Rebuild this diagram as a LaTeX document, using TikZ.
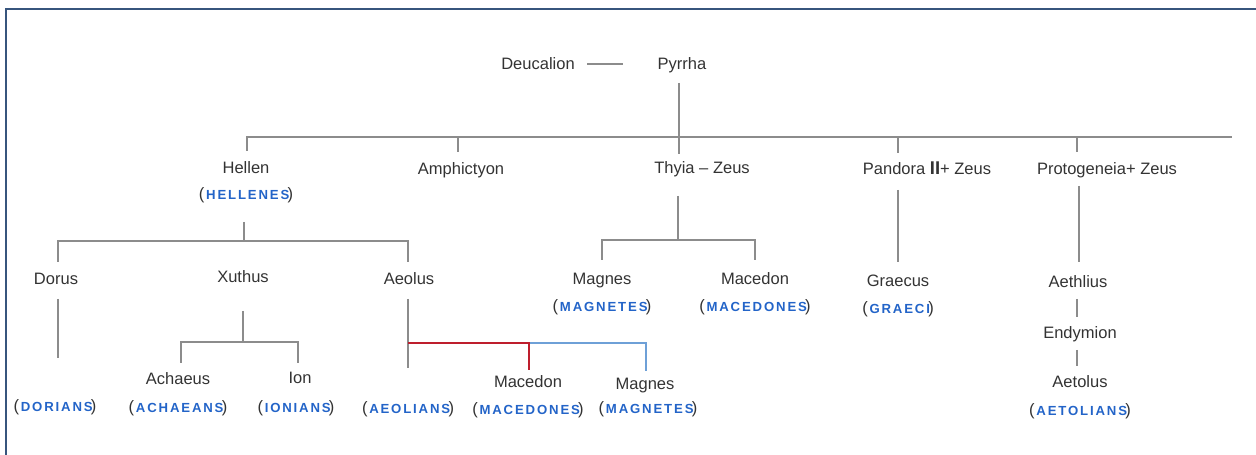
\documentclass[tikz,border=0pt]{standalone}
\usepackage{fontspec}
\usepackage{xcolor}
\setmainfont{Liberation Sans}
\newfontfamily\tribefont{Liberation Sans}[LetterSpace=14]

\definecolor{inkgray}{RGB}{51,51,51}
\definecolor{linegray}{RGB}{140,140,140}
\definecolor{tribeblue}{RGB}{35,100,200}
\definecolor{linkred}{RGB}{190,30,45}
\definecolor{linkblue}{RGB}{110,160,215}
\definecolor{framecol}{RGB}{55,85,125}

\newcommand{\tribename}[1]{{\color{inkgray}(}\kern1pt{\tribefont\bfseries\fontsize{7.5}{9}\selectfont\color{tribeblue}#1}\kern-1pt{\color{inkgray})}}

\begin{document}
\begin{tikzpicture}[
  x=0.02cm, y=-0.02cm,
  person/.style={text=inkgray,font=\fontsize{9.4}{11}\selectfont,inner sep=0pt,text height=6.7pt,text depth=0pt},
  tribe/.style={font=\fontsize{9.4}{11}\selectfont,inner sep=0pt,text height=5.3pt,text depth=0pt},
  stem/.style={draw=linegray,line width=0.75pt},
  redstem/.style={draw=linkred,line width=1.1pt},
  bluestem/.style={draw=linkblue,line width=0.7pt}
]
  \useasboundingbox (0,0) rectangle (1256,455);
  \draw[framecol,line width=1.1pt] (6,455) -- (6,9) -- (1256,9);

  % first generation
  \node[person] (deucalion) at (538,64) {Deucalion};
  \node[person] (pyrrha) at (682,64) {Pyrrha};
  \coordinate (dpL) at (587,64);
  \coordinate (dpR) at (623,64);
  \draw[stem] (dpL) -- (dpR);

  % children of Deucalion and Pyrrha
  \node[person] (hellen) at (246,168) {Hellen};
  \node[tribe] (hellenes) at (246,195) {\tribename{HELLENES}};
  \node[person] (amphictyon) at (461,169) {Amphictyon};
  \node[person] (thyia) at (702,168) {Thyia -- Zeus};
  \node[person] (pandora) at (927,169) {Pandora {\bfseries\fontsize{10.5}{11}\selectfont II}+ Zeus};
  \node[person] (protogeneia) at (1107,169) {Protogeneia+ Zeus};

  \coordinate (pyTop) at (679,83);
  \coordinate (pyBot) at (679,154);
  \coordinate (barL) at (247,137);
  \coordinate (barR) at (1232,137);
  \coordinate (tHel) at (247,151);
  \coordinate (tAmp) at (458,137);
  \coordinate (tAmpB) at (458,152);
  \coordinate (tPan) at (898,137);
  \coordinate (tPanB) at (898,153);
  \coordinate (tPro) at (1077,137);
  \coordinate (tProB) at (1077,152);
  \draw[stem] (pyTop) -- (pyBot);
  \draw[stem] (tHel) -- (barL) -- (barR);
  \draw[stem] (tAmp) -- (tAmpB);
  \draw[stem] (tPan) -- (tPanB);
  \draw[stem] (tPro) -- (tProB);

  % sons of Hellen
  \node[person] (dorus) at (56,279) {Dorus};
  \node[person] (xuthus) at (243,277) {Xuthus};
  \node[person] (aeolus) at (409,279) {Aeolus};
  \coordinate (hTop) at (244,222);
  \coordinate (hMid) at (244,241);
  \coordinate (hL) at (58,241);
  \coordinate (hLB) at (58,262);
  \coordinate (hR) at (408,241);
  \coordinate (hRB) at (408,262);
  \draw[stem] (hTop) -- (hMid);
  \draw[stem] (hLB) -- (hL) -- (hR) -- (hRB);

  % Dorus
  \node[tribe] (dorians) at (55,407) {\tribename{DORIANS}};
  \coordinate (dTop) at (58,299);
  \coordinate (dBot) at (58,358);
  \draw[stem] (dTop) -- (dBot);

  % Xuthus
  \node[person] (achaeus) at (178,379) {Achaeus};
  \node[tribe] (achaeans) at (178,408) {\tribename{ACHAEANS}};
  \node[person] (ion) at (300,378) {Ion};
  \node[tribe] (ionians) at (296,408) {\tribename{IONIANS}};
  \coordinate (xTop) at (243,311);
  \coordinate (xMid) at (243,342);
  \coordinate (xL) at (181,342);
  \coordinate (xLB) at (181,363);
  \coordinate (xR) at (298,342);
  \coordinate (xRB) at (298,363);
  \draw[stem] (xTop) -- (xMid);
  \draw[stem] (xLB) -- (xL) -- (xR) -- (xRB);

  % Aeolus
  \node[tribe] (aeolians) at (408,409) {\tribename{AEOLIANS}};
  \node[person] (macedonB) at (528,382) {Macedon};
  \node[tribe] (macedonesB) at (528,410) {\tribename{MACEDONES}};
  \node[person] (magnesB) at (645,384) {Magnes};
  \node[tribe] (magnetesB) at (648,409) {\tribename{MAGNETES}};
  \coordinate (aTop) at (408,299);
  \coordinate (aBot) at (408,368);
  \coordinate (aJ) at (408,343);
  \coordinate (aM) at (529,343);
  \coordinate (aMB) at (529,370);
  \coordinate (aG) at (646,343);
  \coordinate (aGB) at (646,371);
  \draw[stem] (aTop) -- (aBot);
  \draw[bluestem] (aM) -- (aG) -- (aGB);
  \draw[redstem] (aJ) -- (aM) -- (aMB);

  % Thyia and Zeus
  \node[person] (magnesA) at (602,279) {Magnes};
  \node[tribe] (magnetesA) at (602,307) {\tribename{MAGNETES}};
  \node[person] (macedonA) at (755,279) {Macedon};
  \node[tribe] (macedonesA) at (755,307) {\tribename{MACEDONES}};
  \coordinate (tTop) at (678,196);
  \coordinate (tMid) at (678,240);
  \coordinate (tL) at (602,240);
  \coordinate (tLB) at (602,260);
  \coordinate (tR) at (755,240);
  \coordinate (tRB) at (755,260);
  \draw[stem] (tTop) -- (tMid);
  \draw[stem] (tLB) -- (tL) -- (tR) -- (tRB);

  % Pandora and Zeus
  \node[person] (graecus) at (898,281) {Graecus};
  \node[tribe] (graeci) at (898,309) {\tribename{GRAECI}};
  \coordinate (pTop) at (898,190);
  \coordinate (pBot) at (898,262);
  \draw[stem] (pTop) -- (pBot);

  % Protogeneia and Zeus
  \node[person] (aethlius) at (1078,282) {Aethlius};
  \node[person] (endymion) at (1080,333) {Endymion};
  \node[person] (aetolus) at (1080,382) {Aetolus};
  \node[tribe] (aetolians) at (1080,411) {\tribename{AETOLIANS}};
  \coordinate (gTop) at (1079,186);
  \coordinate (gBot) at (1079,262);
  \coordinate (eTop) at (1077,299);
  \coordinate (eBot) at (1077,317);
  \coordinate (lTop) at (1077,350);
  \coordinate (lBot) at (1077,366);
  \draw[stem] (gTop) -- (gBot);
  \draw[stem] (eTop) -- (eBot);
  \draw[stem] (lTop) -- (lBot);
\end{tikzpicture}
\end{document}
